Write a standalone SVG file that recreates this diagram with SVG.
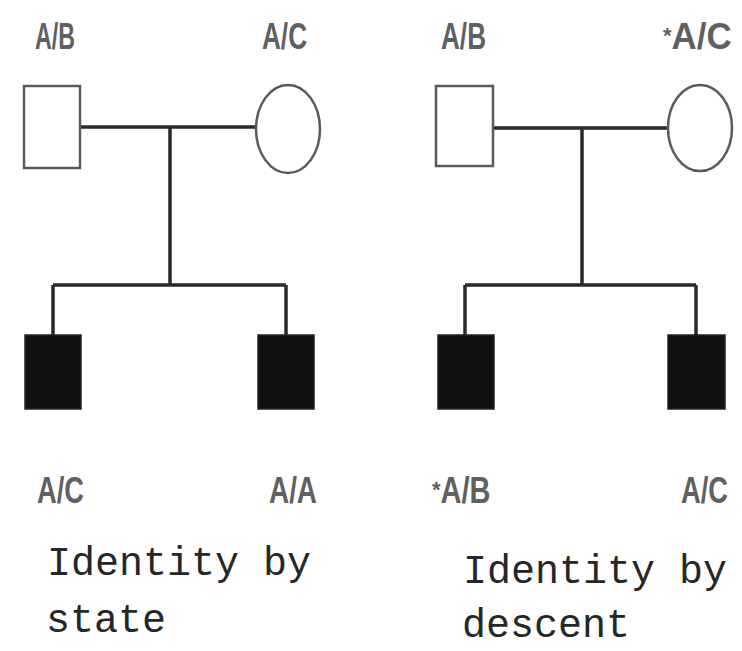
<svg xmlns="http://www.w3.org/2000/svg" width="742" height="651" viewBox="0 0 742 651">
<style>
.bg{fill:#ffffff}
.open{fill:#ffffff;stroke:#5a5a5a;stroke-width:2.5}
.aff{fill:#111111;stroke:#222222;stroke-width:1.5}
.ln{stroke:#2a2a2a;stroke-width:3.5;fill:none}
.geno{font-family:"Liberation Sans",Arial,sans-serif;font-weight:bold;font-size:36px;fill:#606060}
.ast{font-size:22px}
.cap{font-family:"Liberation Mono","Courier New",monospace;font-size:40px;fill:#262626}
</style>
<rect class="bg" x="0" y="0" width="742" height="651"/>
<g id="connectors">
<path class="ln" d="M80,127 H256 M170,127 V285 M53,285 H286 M53,285 V335 M286,285 V335"/>
<path class="ln" d="M493,128 H668 M582,128 V285 M465,285 H696 M465,285 V335 M696,285 V335"/>
</g>
<g id="left-father"><rect class="open" x="24" y="86" width="56" height="82"/><text class="geno" x="35" y="49" textLength="40" lengthAdjust="spacingAndGlyphs">A/B</text></g>
<g id="left-mother"><ellipse class="open" cx="288" cy="129" rx="32" ry="44"/><text class="geno" x="262" y="49" textLength="45" lengthAdjust="spacingAndGlyphs">A/C</text></g>
<g id="left-child1"><rect class="aff" x="25" y="335" width="56" height="74"/><text class="geno" x="37" y="503" textLength="47" lengthAdjust="spacingAndGlyphs">A/C</text></g>
<g id="left-child2"><rect class="aff" x="258" y="335" width="56" height="74"/><text class="geno" x="269" y="503" textLength="48" lengthAdjust="spacingAndGlyphs">A/A</text></g>
<g id="right-father"><rect class="open" x="436" y="86" width="57" height="80"/><text class="geno" x="441" y="49" textLength="45" lengthAdjust="spacingAndGlyphs">A/B</text></g>
<g id="right-mother"><ellipse class="open" cx="700" cy="128" rx="32" ry="43"/><text class="geno" x="663" y="49"><tspan class="ast" dy="-6">*</tspan><tspan dy="6" textLength="60" lengthAdjust="spacingAndGlyphs">A/C</tspan></text></g>
<g id="right-child1"><rect class="aff" x="438" y="335" width="56" height="74"/><text class="geno" x="432" y="503"><tspan class="ast" dy="-6">*</tspan><tspan dy="6" textLength="50" lengthAdjust="spacingAndGlyphs">A/B</tspan></text></g>
<g id="right-child2"><rect class="aff" x="668" y="335" width="57" height="74"/><text class="geno" x="681" y="503" textLength="47" lengthAdjust="spacingAndGlyphs">A/C</text></g>
<g id="caption-left"><text class="cap" x="47" y="575">Identity by</text><text class="cap" x="46" y="632">state</text></g>
<g id="caption-right"><text class="cap" x="463" y="583">Identity by</text><text class="cap" x="462" y="637">descent</text></g>
</svg>
